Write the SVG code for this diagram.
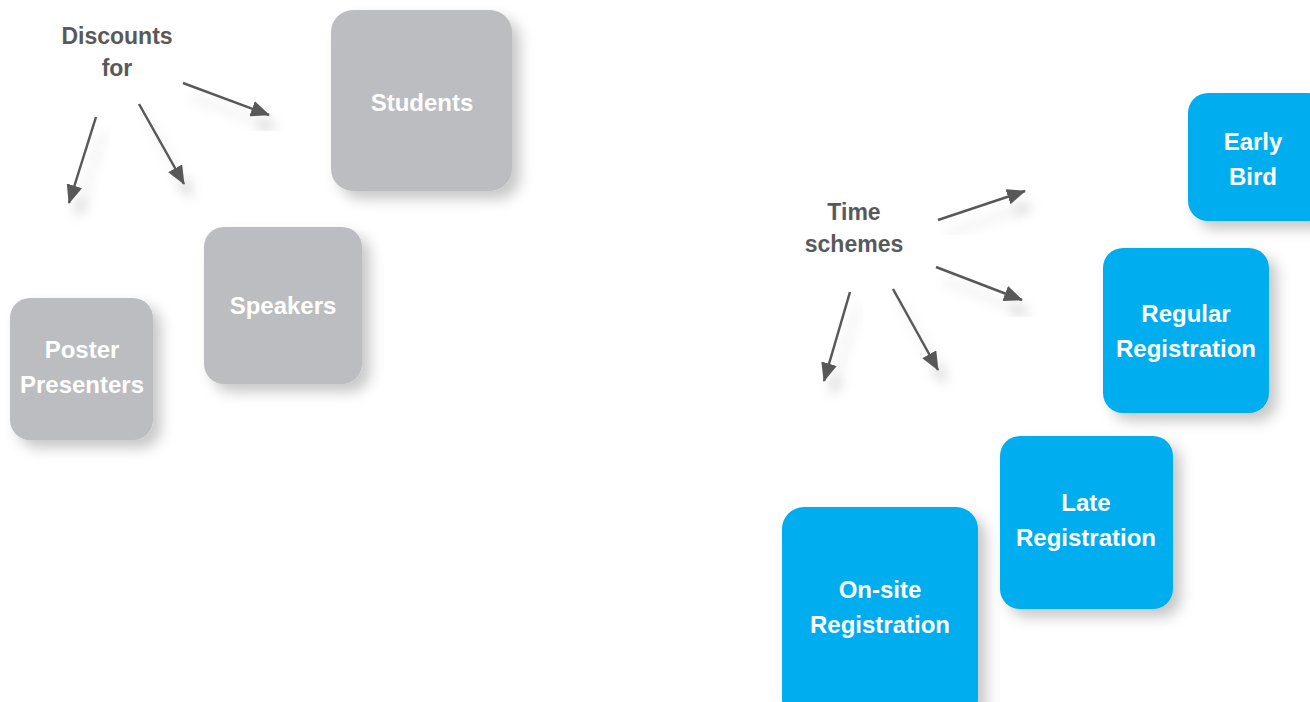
<svg xmlns="http://www.w3.org/2000/svg" width="1310" height="702" viewBox="0 0 1310 702">
<defs>
<filter id="sh" x="-30%" y="-30%" width="170%" height="170%">
<feDropShadow dx="8" dy="8" stdDeviation="7" flood-color="#000" flood-opacity="0.22"/>
</filter>
<filter id="ash" x="-50%" y="-50%" width="200%" height="200%">
<feDropShadow dx="8" dy="14" stdDeviation="6" flood-color="#000" flood-opacity="0.15"/>
</filter>
<marker id="ah" markerUnits="userSpaceOnUse" markerWidth="20" markerHeight="16" viewBox="0 0 20 16" refX="18" refY="8" orient="auto">
<path d="M0,0 L19,8 L0,16 Z" fill="#595959"/>
</marker>
</defs>
<style>
.g{fill:#BCBDC0;filter:url(#sh)}
.b{fill:#00AEEF;filter:url(#sh)}
.t{font-family:"Liberation Sans",Arial,sans-serif;font-weight:bold;font-size:24px;fill:#fff;text-anchor:middle}
.l{font-family:"Liberation Sans",Arial,sans-serif;font-weight:bold;font-size:23px;fill:#58595B;text-anchor:middle}
.c line{stroke:#595959;stroke-width:2.5;marker-end:url(#ah);filter:url(#ash)}
</style>
<rect width="1310" height="702" fill="#fff"/>
<g id="discounts-label"><text class="l" x="117" y="44">Discounts</text><text class="l" x="117" y="76">for</text></g>
<g id="students"><rect class="g" x="331" y="10" width="181" height="181" rx="22"/><text class="t" x="422" y="111">Students</text></g>
<g id="speakers"><rect class="g" x="204" y="227" width="158" height="157" rx="20"/><text class="t" x="283" y="314">Speakers</text></g>
<g id="poster"><rect class="g" x="10" y="298" width="143" height="142" rx="20"/><text class="t" x="82" y="358">Poster</text><text class="t" x="82" y="393">Presenters</text></g>
<g id="time-label"><text class="l" x="854" y="220">Time</text><text class="l" x="854" y="252">schemes</text></g>
<g id="early"><rect class="b" x="1188" y="93" width="140" height="128" rx="20"/><text class="t" x="1253" y="150">Early</text><text class="t" x="1253" y="185">Bird</text></g>
<g id="regular"><rect class="b" x="1103" y="248" width="166" height="165" rx="20"/><text class="t" x="1186" y="322">Regular</text><text class="t" x="1186" y="357">Registration</text></g>
<g id="late"><rect class="b" x="1000" y="436" width="173" height="173" rx="20"/><text class="t" x="1086" y="511">Late</text><text class="t" x="1086" y="546">Registration</text></g>
<g id="onsite"><rect class="b" x="782" y="507" width="196" height="215" rx="22"/><text class="t" x="880" y="598">On-site</text><text class="t" x="880" y="633">Registration</text></g>
<g id="connectors" class="c">
<line x1="96" y1="117" x2="69" y2="203"/>
<line x1="139" y1="104" x2="184" y2="184"/>
<line x1="183" y1="83" x2="269" y2="115"/>
<line x1="938" y1="220" x2="1025" y2="191"/>
<line x1="936" y1="267" x2="1022" y2="300"/>
<line x1="850" y1="292" x2="824" y2="381"/>
<line x1="893" y1="289" x2="938" y2="370"/>
</g>
</svg>
